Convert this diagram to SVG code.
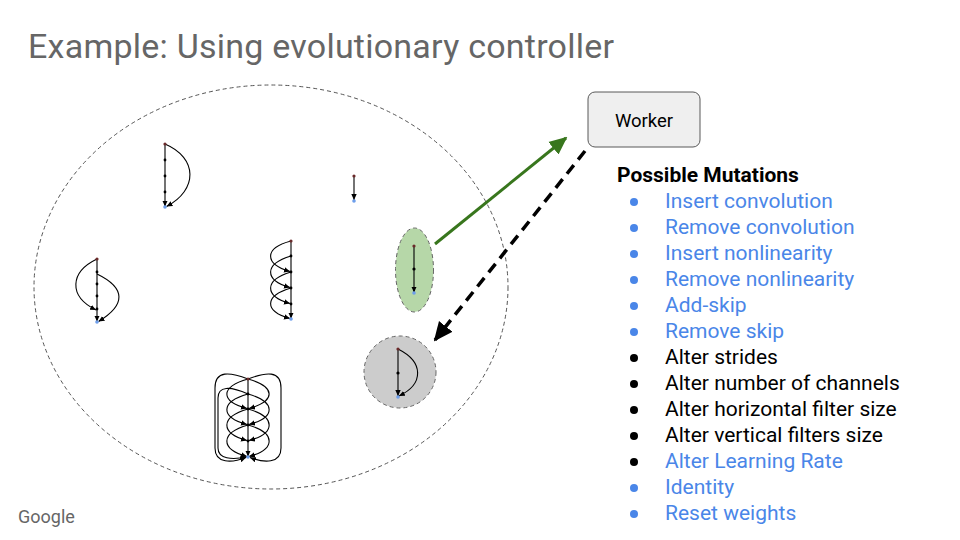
<svg xmlns="http://www.w3.org/2000/svg" width="960" height="540" viewBox="0 0 960 540">
<style>
.t{font-family:Roboto,"Liberation Sans",sans-serif}
.e{fill:none;stroke:#000;stroke-width:1.1;marker-end:url(#a)}
.n{fill:#000}
.s{fill:#6b2a2a}
.k{fill:#6d9eeb}
.blue{fill:#4a86e8}
.blk{fill:#000}
.it{font-family:Roboto,"Liberation Sans",sans-serif;font-size:21px}
</style>
<defs>
<marker id="a" viewBox="0 0 10 10" refX="10" refY="5" markerWidth="6" markerHeight="6" markerUnits="userSpaceOnUse" orient="auto"><path d="M0,0.5L10,5L0,9.5z" fill="#000"/></marker>
<marker id="g" viewBox="0 0 10 10" refX="9" refY="5" markerWidth="6" markerHeight="6" orient="auto"><path d="M0,0.5L10,5L0,9.5z" fill="#38761d"/></marker>
<marker id="b" viewBox="0 0 10 10" refX="9" refY="5" markerWidth="5.5" markerHeight="5.5" orient="auto"><path d="M0,0.5L10,5L0,9.5z" fill="#000"/></marker>
</defs>
<rect width="960" height="540" fill="#fff"/>
<text class="t" x="28" y="58" font-size="34" fill="#666" textLength="586">Example: Using evolutionary controller</text>

<g id="population">
<ellipse cx="271" cy="287" rx="237" ry="202" fill="none" stroke="#555" stroke-width="1" stroke-dasharray="4 3"/>
</g>

<g id="graph1">
<path class="e" d="M165,144V159.5M165,160V175.5M165,176V191.5M165,192V206.5"/>
<path class="e" d="M165,144C198,158 198,190 166.5,206.5"/>
<circle class="s" cx="165" cy="144" r="1.6"/><circle class="n" cx="165" cy="160" r="1.4"/><circle class="n" cx="165" cy="176" r="1.4"/><circle class="n" cx="165" cy="192" r="1.4"/><circle class="k" cx="165" cy="207" r="1.8"/>
</g>

<g id="graph2">
<path class="e" d="M97,259V271.5M97,272V283.5M97,284V295.5M97,296V308.5M97,309V321.5"/>
<path class="e" d="M97,259C70,272 68,296 96,310"/>
<path class="e" d="M97,274C126,288 126,305 98.5,321.5"/>
<circle class="s" cx="97" cy="259" r="1.6"/><circle class="n" cx="97" cy="272" r="1.4"/><circle class="n" cx="97" cy="284" r="1.4"/><circle class="n" cx="97" cy="296" r="1.4"/><circle class="n" cx="97" cy="309" r="1.4"/><circle class="k" cx="97" cy="322" r="1.8"/>
</g>

<g id="graph3">
<path class="e" d="M291,241V255.5M291,256V271.5M291,272V287.5M291,288V303.5M291,304V318.5"/>
<path class="e" d="M291,241C264,248 264,264 290,271.5"/>
<path class="e" d="M291,256C264,264 264,280 290,287.5"/>
<path class="e" d="M291,272C264,280 264,296 290,303.5"/>
<path class="e" d="M291,288C264,296 264,311 290,318.5"/>
<circle class="s" cx="291" cy="241" r="1.6"/><circle class="n" cx="291" cy="256" r="1.4"/><circle class="n" cx="291" cy="272" r="1.4"/><circle class="n" cx="291" cy="288" r="1.4"/><circle class="n" cx="291" cy="304" r="1.4"/><circle class="k" cx="291" cy="319" r="1.8"/>
</g>

<g id="graph4">
<path class="e" d="M248,379V393.5M248,394V408.5M248,409V424.5M248,425V440.5M248,441V456.5"/>
<path class="e" d="M248,379C230,372 215,370 215,388V448C215,464 232,463 246,457.5"/>
<path class="e" d="M248,379C266,372 281,370 281,388V448C281,464 264,463 250,457.5"/>
<path class="e" d="M248,394C230,386 218,386 218,398V448C218,459 232,460 246.5,457"/>
<path class="e" d="M248,379C220,387 220,401 247,408.5"/>
<path class="e" d="M248,394C220,402 220,417 247,424.5"/>
<path class="e" d="M248,409C220,417 220,433 247,440.5"/>
<path class="e" d="M248,425C220,433 220,449 247,456.5"/>
<path class="e" d="M248,379C276,387 276,401 249,408.5"/>
<path class="e" d="M248,394C276,402 276,417 249,424.5"/>
<path class="e" d="M248,409C276,417 276,433 249,440.5"/>
<path class="e" d="M248,425C276,433 276,449 249,456.5"/>
<circle class="s" cx="248" cy="379" r="1.6"/><circle class="n" cx="248" cy="394" r="1.4"/><circle class="n" cx="248" cy="409" r="1.4"/><circle class="n" cx="248" cy="425" r="1.4"/><circle class="n" cx="248" cy="441" r="1.4"/><circle class="k" cx="248" cy="457" r="1.8"/>
</g>

<g id="graph5">
<path class="e" d="M354,176V200"/>
<circle class="s" cx="354" cy="176" r="1.6"/><circle class="k" cx="354" cy="201" r="1.8"/>
</g>

<g id="selected">
<ellipse cx="414.5" cy="270" rx="19" ry="42" fill="#b6d7a8" stroke="#666" stroke-width="1" stroke-dasharray="4 3"/>
<path class="e" d="M414,246V268.5M414,269V292.5"/>
<circle class="s" cx="414" cy="246" r="1.6"/><circle class="n" cx="414" cy="269" r="1.6"/><circle class="k" cx="414" cy="293" r="1.8"/>
</g>

<g id="child">
<circle cx="400" cy="372" r="36" fill="#cccccc" stroke="#666" stroke-width="1" stroke-dasharray="4 3"/>
<path class="e" d="M398,349V372.5M398,373V396"/>
<path class="e" d="M398,349C424,362 424,384 399,396"/>
<circle class="s" cx="398" cy="349" r="1.6"/><circle class="n" cx="398" cy="373" r="1.6"/><circle class="k" cx="398" cy="397" r="1.8"/>
</g>

<g id="worker">
<rect x="588" y="92" width="112" height="55" rx="7" fill="#efefef" stroke="#595959" stroke-width="1"/>
<text class="t" x="644" y="127" font-size="18.5" text-anchor="middle" fill="#000">Worker</text>
</g>

<g id="connectors">
<path d="M435,244L566,138" stroke="#38761d" stroke-width="3" fill="none" marker-end="url(#g)"/>
<path d="M585,151L435,340" stroke="#000" stroke-width="3.5" stroke-dasharray="11 7" fill="none" marker-end="url(#b)"/>
</g>

<g id="mutations">
<text class="t" x="617" y="182" font-size="21" font-weight="bold" fill="#000">Possible Mutations</text>
<g class="blue">
<circle cx="634" cy="202" r="4"/><circle cx="634" cy="228" r="4"/><circle cx="634" cy="254" r="4"/><circle cx="634" cy="280" r="4"/><circle cx="634" cy="306" r="4"/><circle cx="634" cy="332" r="4"/><circle cx="634" cy="488" r="4"/><circle cx="634" cy="514" r="4"/>
</g>
<g class="blk">
<circle cx="634" cy="358" r="4"/><circle cx="634" cy="384" r="4"/><circle cx="634" cy="410" r="4"/><circle cx="634" cy="436" r="4"/><circle cx="634" cy="462" r="4"/>
</g>
<text class="it blue" x="665" y="208">Insert convolution</text>
<text class="it blue" x="665" y="234">Remove convolution</text>
<text class="it blue" x="665" y="260">Insert nonlinearity</text>
<text class="it blue" x="665" y="286">Remove nonlinearity</text>
<text class="it blue" x="665" y="312">Add-skip</text>
<text class="it blue" x="665" y="338">Remove skip</text>
<text class="it blk" x="665" y="364">Alter strides</text>
<text class="it blk" x="665" y="390">Alter number of channels</text>
<text class="it blk" x="665" y="416">Alter horizontal filter size</text>
<text class="it blk" x="665" y="442">Alter vertical filters size</text>
<text class="it blue" x="665" y="468">Alter Learning Rate</text>
<text class="it blue" x="665" y="494">Identity</text>
<text class="it blue" x="665" y="520">Reset weights</text>
</g>

<text class="t" x="18" y="523" font-size="18" fill="#666">Google</text>
</svg>
